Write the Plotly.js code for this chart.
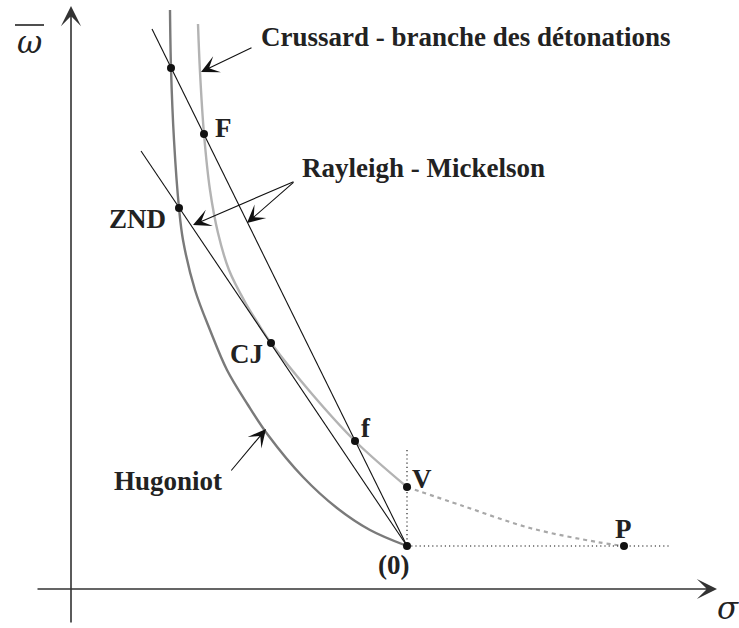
<!DOCTYPE html>
<html>
<head>
<meta charset="utf-8">
<script src="https://cdn.plot.ly/plotly-3.0.1.min.js"></script>
<style>html,body{margin:0;padding:0;background:#fff;}#chart{width:739px;height:628px;}</style>
</head>
<body>
<div id="chart"></div>
<script>
// ---- data (σ, ω̄) ----
const hugoniotSigma = [0.99, 1.00, 1.03, 1.08, 1.12, 1.24, 1.39, 1.56, 1.77, 1.97, 2.32, 2.66, 2.99, 3.36];
const hugoniotOmega = [5.79, 5.21, 4.49, 3.81, 3.49, 2.99, 2.59, 2.19, 1.84, 1.54, 1.12, 0.81, 0.59, 0.43];

const crussardSigma = [1.27, 1.29, 1.33, 1.39, 1.47, 1.58, 1.74, 1.88, 2.00, 2.41, 2.84, 3.36];
const crussardOmega = [5.65, 5.17, 4.55, 3.99, 3.56, 3.19, 2.87, 2.64, 2.46, 1.95, 1.48, 1.02];

const crussardExtSigma = [3.36, 3.92, 4.59, 5.26, 5.53];
const crussardExtOmega = [1.02, 0.83, 0.61, 0.47, 0.43];

const rayleigh1Sigma = [0.81, 3.36];
const rayleigh1Omega = [5.60, 0.43];
const rayleigh2Sigma = [0.70, 3.36];
const rayleigh2Omega = [4.38, 0.43];

const guideVSigma = [3.36, 3.36];
const guideVOmega = [1.39, 0.43];
const guideHSigma = [3.36, 5.99];
const guideHOmega = [0.43, 0.43];

const pointNames = ['(0)', 'P', 'V', 'f', 'CJ', 'ZND', 'F', ''];
const pointSigma = [3.36, 5.53, 3.36, 2.84, 2.00, 1.08, 1.33, 1.00];
const pointOmega = [0.43, 0.43, 1.02, 1.48, 2.46, 3.81, 4.55, 5.21];

// ---- traces ----
const traces = [
  {x: hugoniotSigma, y: hugoniotOmega, mode: 'lines', line: {color: '#7a7a7a', width: 2.4, shape: 'spline', smoothing: 1}},
  {x: crussardSigma, y: crussardOmega, mode: 'lines', line: {color: '#b3b3b3', width: 2.4, shape: 'spline', smoothing: 1}},
  {x: crussardExtSigma, y: crussardExtOmega, mode: 'lines', line: {color: '#a8a8a8', width: 2.2, shape: 'spline', dash: '4px,4px'}},
  {x: rayleigh1Sigma, y: rayleigh1Omega, mode: 'lines', line: {color: '#111', width: 1.1}},
  {x: rayleigh2Sigma, y: rayleigh2Omega, mode: 'lines', line: {color: '#111', width: 1.1}},
  {x: guideVSigma, y: guideVOmega, mode: 'lines', line: {color: '#111', width: 1.1, dash: '1.2px,3px'}},
  {x: guideHSigma, y: guideHOmega, mode: 'lines', line: {color: '#111', width: 1.1, dash: '1.2px,3px'}},
  {x: pointSigma, y: pointOmega, text: pointNames, mode: 'markers', marker: {color: '#111', size: 8}}
];

// ---- annotations ----
const labFont = {family: 'Liberation Serif, serif', size: 27, color: '#222'};
function label(text, x, y, xanchor) {
  return {text: '<b>' + text + '</b>', x: x, y: y, xref: 'x', yref: 'y', showarrow: false,
          xanchor: xanchor || 'center', yanchor: 'middle', font: labFont};
}
function arrow(x0, y0, x1, y1, w, head, size, color) {
  return {text: '', x: x1, y: y1, ax: x0, ay: y0, xref: 'x', yref: 'y', axref: 'x', ayref: 'y',
          showarrow: true, arrowhead: head, arrowsize: size, arrowwidth: w, arrowcolor: color,
          standoff: 0, startstandoff: 0};
}

const annotations = [
  // axes
  arrow(-0.35, 0, 6.46, 0, 1.6, 3, 2.1, '#333'),
  arrow(0, -0.35, 0, 5.83, 1.6, 3, 2.1, '#333'),
  // pointer arrows
  arrow(1.82, 5.42, 1.30, 5.17, 1.1, 3, 2.7, '#111'),
  arrow(2.24, 4.08, 1.22, 3.64, 1.1, 3, 2.7, '#111'),
  arrow(2.24, 4.08, 1.76, 3.66, 1.1, 3, 2.7, '#111'),
  arrow(1.59, 1.17, 1.95, 1.60, 1.1, 3, 2.7, '#111'),
  // text labels
  label('Crussard - branche des détonations', 3.95, 5.52),
  label('Rayleigh - Mickelson', 3.52, 4.21),
  label('Hugoniot', 0.97, 1.08),
  label('F', 1.52, 4.61),
  label('ZND', 0.66, 3.70),
  label('CJ', 1.75, 2.35),
  label('f', 2.95, 1.61),
  label('V', 3.51, 1.10),
  label('P', 5.52, 0.60),
  label('(0)', 3.22, 0.24),
  // axis symbols
  {text: '<i>ω</i>', x: -0.42, y: 5.47, xref: 'x', yref: 'y', showarrow: false, xanchor: 'center', yanchor: 'middle',
   font: {family: 'DejaVu Serif, serif', size: 31, color: '#222'}},
  {text: '<i>σ</i>', x: 6.57, y: -0.19, xref: 'x', yref: 'y', showarrow: false, xanchor: 'center', yanchor: 'middle',
   font: {family: 'DejaVu Serif, serif', size: 31, color: '#222'}}
];

// overline of the ω̄ symbol
const shapes = [
  {type: 'line', xref: 'x', yref: 'y', x0: -0.56, x1: -0.27, y0: 5.64, y1: 5.64, line: {color: '#222', width: 1.6}}
];

const layout = {
  width: 739, height: 628,
  margin: {l: 0, r: 0, t: 0, b: 0, pad: 0},
  paper_bgcolor: '#fff', plot_bgcolor: '#fff',
  showlegend: false,
  xaxis: {range: [-0.71, 6.68], visible: false, fixedrange: true},
  yaxis: {range: [-0.39, 5.89], visible: false, fixedrange: true},
  annotations: annotations,
  shapes: shapes
};

Plotly.newPlot('chart', traces, layout, {staticPlot: true, displayModeBar: false});
</script>
</body>
</html>
